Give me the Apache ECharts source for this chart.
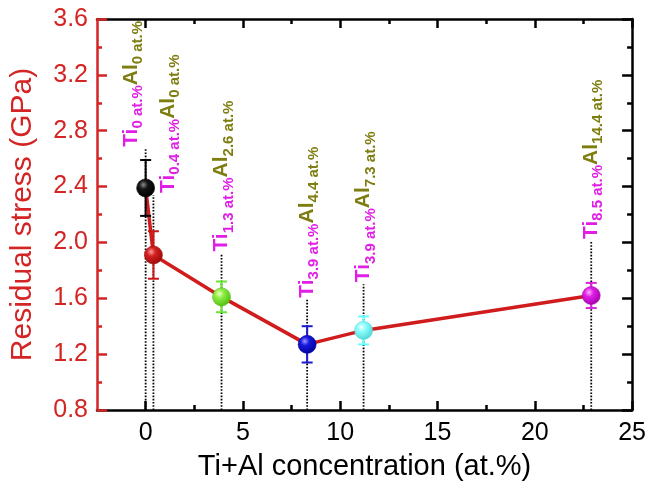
<!DOCTYPE html>
<html>
<head>
<meta charset="utf-8">
<script src="https://cdn.jsdelivr.net/npm/echarts@6/dist/echarts.min.js"></script>
<style>html,body{margin:0;padding:0;background:#fff;}#c{width:649px;height:496px;}</style>
</head>
<body>
<div id="c"></div>
<script>
// ---- data ----
const concentration = [0, 0.4, 3.9, 8.3, 11.2, 22.9];          // Ti+Al (at.%)
const stress = [2.39, 1.91, 1.61, 1.27, 1.37, 1.62];            // GPa
const stressErr = [0.20, 0.17, 0.11, 0.13, 0.10, 0.09];         // GPa
const labelBase = [2.67, 2.34, 1.92, 1.59, 1.70, 2.01];         // GPa, where each guide line ends
const tiPct = ['0', '0.4', '1.3', '3.9', '3.9', '8.5'];
const alPct = ['0', '0', '2.6', '4.4', '7.3', '14.4'];
const xMajorTicks = [0, 5, 10, 15, 20, 25];
const xMinorTicks = [2.5, 7.5, 12.5, 17.5, 22.5];
const yTicks = ['0.8', '1.2', '1.6', '2.0', '2.4', '2.8', '3.2', '3.6'];

// ---- styles ----
const FONT = 'Liberation Sans, Arial, sans-serif';
const RED = '#d42424';
const sphereLight = ['#8a8a8a', '#ff9c9c', '#eeffc8', '#9a9aff', '#f4ffff', '#ffb0ff'];
const sphereBase  = ['#151515', '#d42020', '#8cee44', '#1818dc', '#8efcfc', '#e020e4'];
const sphereDark  = ['#000000', '#9c0a0a', '#52c010', '#00009c', '#50d8d8', '#a800b0'];
const errColors   = ['#000000', '#c81818', '#66e633', '#1a1acc', '#66ffff', '#dd22dd'];
const labelSide   = ['left', 'right', 'center', 'center', 'center', 'center'];
const TI_COLOR = '#e01ee6';
const AL_COLOR = '#7d7d10';
const yMin = 0.8, yMax = 3.6;

const chart = echarts.init(document.getElementById('c'), null, {renderer: 'canvas'});

const pointData = concentration.map((x, i) => ({
  value: [x, stress[i]],
  itemStyle: {
    opacity: 1,
    color: {type: 'radial', x: 0.38, y: 0.33, r: 0.68,
      colorStops: [
        {offset: 0, color: sphereLight[i]},
        {offset: 0.35, color: sphereBase[i]},
        {offset: 1, color: sphereDark[i]}
      ]},
    borderColor: sphereDark[i], borderWidth: 0.6
  }
}));

const errData = concentration.map((x, i) => [x, stress[i], stressErr[i], i]);
const guideData = concentration.map((x, i) => [x, labelBase[i], i]);

const option = {
  animation: false,
  backgroundColor: '#fff',
  grid: {left: 97, right: 16, top: 19, bottom: 86, containLabel: false},
  xAxis: [
    {
      type: 'value', position: 'bottom', min: -2.5, max: 25,
      name: 'Ti+Al concentration (at.%)', nameLocation: 'middle', nameGap: 42,
      nameTextStyle: {fontFamily: FONT, fontSize: 29, color: '#000'},
      axisLine: {show: true, onZero: false, lineStyle: {color: '#000', width: 2.5}},
      axisTick: {show: true, inside: true, length: 9, lineStyle: {color: '#000', width: 2.5}, customValues: xMajorTicks},
      axisLabel: {show: true, margin: 11, fontFamily: FONT, fontSize: 25, color: '#000', customValues: xMajorTicks},
      splitLine: {show: false}
    },
    {
      type: 'value', position: 'bottom', min: -2.5, max: 25,
      axisLine: {show: false, onZero: false},
      axisTick: {show: true, inside: true, length: 5, lineStyle: {color: '#000', width: 2.5}, customValues: xMinorTicks},
      axisLabel: {show: false}, splitLine: {show: false}
    },
    {
      type: 'value', position: 'top', min: -2.5, max: 25,
      axisLine: {show: true, onZero: false, lineStyle: {color: '#000', width: 2.5}},
      axisTick: {show: true, inside: true, length: 9, lineStyle: {color: '#000', width: 2.5}, customValues: xMajorTicks},
      axisLabel: {show: false}, splitLine: {show: false}
    },
    {
      type: 'value', position: 'top', min: -2.5, max: 25,
      axisLine: {show: false, onZero: false},
      axisTick: {show: true, inside: true, length: 5, lineStyle: {color: '#000', width: 2.5}, customValues: xMinorTicks},
      axisLabel: {show: false}, splitLine: {show: false}
    }
  ],
  yAxis: [
    {
      type: 'value', position: 'left', min: yMin, max: yMax, interval: 0.4, z: 5,
      name: 'Residual stress (GPa)', nameLocation: 'middle', nameGap: 59, nameRotate: 90,
      nameTextStyle: {fontFamily: FONT, fontSize: 30, color: RED},
      axisLine: {show: true, onZero: false, lineStyle: {color: RED, width: 2.5}},
      axisTick: {show: true, inside: true, length: 10, lineStyle: {color: RED, width: 2.5}},
      minorTick: {show: true, splitNumber: 2, length: 5, lineStyle: {color: RED, width: 2.5}},
      axisLabel: {show: true, margin: 9, fontFamily: FONT, fontSize: 25, color: RED,
        formatter: (v) => yTicks.find(t => Math.abs(parseFloat(t) - v) < 1e-6) || ''},
      splitLine: {show: false}
    },
    {
      type: 'value', position: 'right', min: yMin, max: yMax, interval: 0.4,
      axisLine: {show: true, onZero: false, lineStyle: {color: '#000', width: 2.5}},
      axisTick: {show: true, inside: true, length: 10, lineStyle: {color: '#000', width: 2.5}},
      minorTick: {show: true, splitNumber: 2, length: 5, lineStyle: {color: '#000', width: 2.5}},
      axisLabel: {show: false}, splitLine: {show: false}
    }
  ],
  series: [
    {
      // dotted guide lines from the x axis up to the composition labels
      type: 'custom', xAxisIndex: 0, yAxisIndex: 0, z: 1,
      data: guideData, encode: {x: 0, y: 1},
      renderItem: (params, api) => {
        const x = api.value(0);
        const p0 = api.coord([x, yMin]);
        const p1 = api.coord([x, api.value(1)]);
        return {type: 'line', shape: {x1: p0[0], y1: p0[1], x2: p1[0], y2: p1[1]},
          style: {stroke: '#000', lineWidth: 1.8, lineDash: [1.6, 1.6]}};
      }
    },
    {
      type: 'line', xAxisIndex: 0, yAxisIndex: 0, z: 2,
      data: concentration.map((x, i) => [x, stress[i]]),
      showSymbol: false, symbol: 'none',
      lineStyle: {color: '#d01c1c', width: 3.5}
    },
    {
      // error bars
      type: 'custom', xAxisIndex: 0, yAxisIndex: 0, z: 3,
      data: errData, encode: {x: 0, y: 1},
      renderItem: (params, api) => {
        const x = api.value(0), y = api.value(1), e = api.value(2), idx = api.value(3);
        const top = api.coord([x, y + e]), bot = api.coord([x, y - e]);
        const c = errColors[idx], hw = 5.5;
        const st = {stroke: c, lineWidth: 2};
        return {type: 'group', children: [
          {type: 'line', shape: {x1: top[0], y1: top[1], x2: bot[0], y2: bot[1]}, style: st},
          {type: 'line', shape: {x1: top[0] - hw, y1: top[1], x2: top[0] + hw, y2: top[1]}, style: st},
          {type: 'line', shape: {x1: bot[0] - hw, y1: bot[1], x2: bot[0] + hw, y2: bot[1]}, style: st}
        ]};
      }
    },
    {
      type: 'scatter', xAxisIndex: 0, yAxisIndex: 0, z: 4,
      symbol: 'circle', symbolSize: 18,
      itemStyle: {opacity: 1},
      data: pointData
    },
    {
      // rotated composition labels
      type: 'custom', xAxisIndex: 0, yAxisIndex: 0, z: 5,
      data: guideData, encode: {x: 0, y: 1},
      renderItem: (params, api) => {
        const x = api.value(0), base = api.value(1), idx = api.value(2);
        const p = api.coord([x, base]);
        const side = labelSide[idx];
        const va = side === 'left' ? 'bottom' : (side === 'right' ? 'top' : 'middle');
        return {
          type: 'text', x: p[0], y: p[1] - 2, rotation: Math.PI / 2,
          style: {
            text: '{ti|Ti}{ts|' + tiPct[idx] + ' at.%}{al|Al}{as|' + alPct[idx] + ' at.%}',
            align: 'left', verticalAlign: va,
            rich: {
              ti: {fontFamily: FONT, fontSize: 21, fontWeight: 'bold', fill: TI_COLOR},
              ts: {fontFamily: FONT, fontSize: 15, fontWeight: 'bold', fill: TI_COLOR, padding: [14, 0, 0, 0]},
              al: {fontFamily: FONT, fontSize: 21, fontWeight: 'bold', fill: AL_COLOR},
              as: {fontFamily: FONT, fontSize: 15, fontWeight: 'bold', fill: AL_COLOR, padding: [14, 0, 0, 0]}
            }
          }
        };
      }
    }
  ]
};
chart.setOption(option);
</script>
</body>
</html>
